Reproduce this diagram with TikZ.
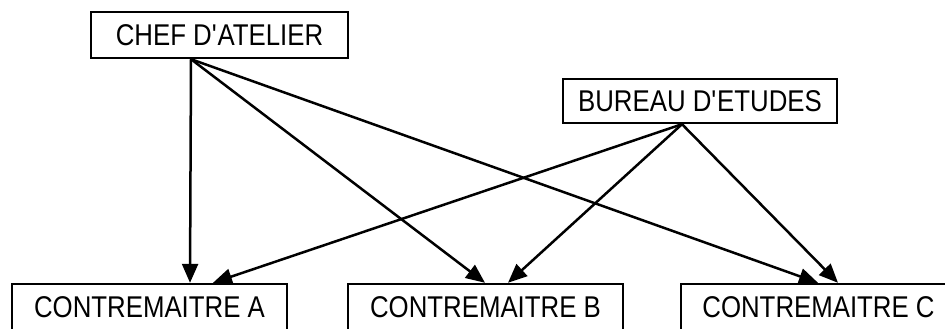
\documentclass[tikz,border=0pt]{standalone}
\usepackage{fontspec}
\setmainfont{Liberation Sans}[FakeStretch=0.86]
\usetikzlibrary{arrows.meta}
\begin{document}
\begin{tikzpicture}[x=1pt,y=-1pt,
  box/.style={draw=black,line width=2.4pt,rectangle,inner sep=0pt,fill=white,
    font=\fontsize{30}{32}\selectfont},
  link/.style={line width=2.5pt,-{Triangle[length=19pt,width=16pt]}}]
\useasboundingbox (0,0) rectangle (945,329);
\clip (0,0) rectangle (945,329);
\node[box,minimum width=257pt,minimum height=46pt] (chef) at (219.5,35) {CHEF D\textquotesingle ATELIER};
\node[box,minimum width=274pt,minimum height=44pt] (bureau) at (700,101) {BUREAU D\textquotesingle ETUDES};
\node[box,minimum width=275pt,minimum height=47pt] (ca) at (149.5,307.5) {CONTREMAITRE A};
\node[box,minimum width=275pt,minimum height=47pt] (cb) at (485.5,307.5) {CONTREMAITRE B};
\node[box,minimum width=275pt,minimum height=47pt] (cc) at (818.5,307.5) {CONTREMAITRE C};
\draw[link] ([xshift=-28.5pt]chef.south) -- ([xshift=40.5pt]ca.north);
\draw[link] ([xshift=-28.5pt]chef.south) -- ([xshift=-0.5pt]cb.north);
\draw[link] ([xshift=-28.5pt]chef.south) -- ([xshift=-0.5pt]cc.north);
\draw[link] ([xshift=-18pt]bureau.south) -- ([xshift=63.5pt]ca.north);
\draw[link] ([xshift=-18pt]bureau.south) -- ([xshift=22.5pt]cb.north);
\draw[link] ([xshift=-18pt]bureau.south) -- ([xshift=19.5pt]cc.north);
\end{tikzpicture}
\end{document}
